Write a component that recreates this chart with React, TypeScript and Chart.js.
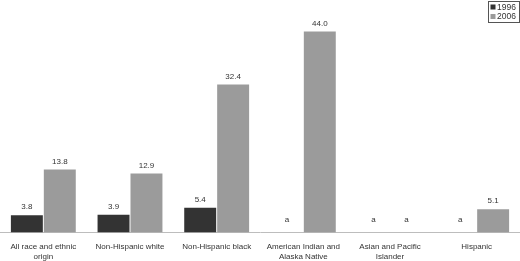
import React, { useEffect, useRef } from "react";
import { Chart, registerables } from "chart.js";

Chart.register(...registerables);

const categories: string[][] = [
  ["All race and ethnic", "origin"],
  ["Non-Hispanic white"],
  ["Non-Hispanic black"],
  ["American Indian and", "Alaska Native"],
  ["Asian and Pacific", "Islander"],
  ["Hispanic"],
];
const series1996: (number | null)[] = [3.8, 3.9, 5.4, null, null, null];
const series2006: (number | null)[] = [13.8, 12.9, 32.4, 44.0, null, 5.1];
const seriesNames = ["1996", "2006"];
const seriesColors = ["#333333", "#9b9b9b"];
const missingLabel = "a";

const FONT = "'Liberation Sans Narrow', 'Liberation Sans', Lato, sans-serif";

const labelPlugin = {
  id: "valueLabels",
  afterDatasetsDraw(chart: any) {
    const ctx = chart.ctx;
    const yScale = chart.scales.y;
    const base = yScale.getPixelForValue(0);
    ctx.save();
    ctx.font = `8px ${FONT}`;
    ctx.fillStyle = "#333333";
    ctx.textAlign = "center";
    ctx.textBaseline = "bottom";
    chart.data.datasets.forEach((ds: any, di: number) => {
      const meta = chart.getDatasetMeta(di);
      meta.data.forEach((el: any, i: number) => {
        const v = ds.data[i];
        const x = el.x;
        if (v === null || v === undefined) {
          ctx.fillText(missingLabel, x, base - 9);
        } else {
          ctx.fillText(v.toFixed(1), x, el.y - 4);
        }
      });
    });
    ctx.restore();
  },
};

const legendPlugin = {
  id: "boxLegend",
  afterDraw(chart: any) {
    const ctx = chart.ctx;
    const x0 = 488.5;
    const y0 = 1.5;
    const w = 31;
    const h = 21;
    ctx.save();
    ctx.fillStyle = "#ffffff";
    ctx.fillRect(x0, y0, w, h);
    ctx.strokeStyle = "#555555";
    ctx.lineWidth = 1;
    ctx.strokeRect(x0, y0, w, h);
    ctx.font = `8.5px ${FONT}`;
    ctx.textBaseline = "middle";
    ctx.textAlign = "left";
    seriesNames.forEach((name, i) => {
      const cy = y0 + 5.5 + i * 9.5;
      ctx.fillStyle = seriesColors[i];
      ctx.fillRect(x0 + 2, cy - 2.5, 5, 5);
      ctx.fillStyle = "#333333";
      ctx.fillText(name, x0 + 8.5, cy + 0.5);
    });
    ctx.restore();
  },
};

export default function App() {
  const ref = useRef<HTMLCanvasElement | null>(null);
  useEffect(() => {
    if (!ref.current) return;
    const chart = new Chart(ref.current, {
      type: "bar",
      data: {
        labels: categories,
        datasets: [
          {
            label: seriesNames[0],
            data: series1996,
            backgroundColor: seriesColors[0],
            categoryPercentage: 0.76,
            barPercentage: 0.97,
          },
          {
            label: seriesNames[1],
            data: series2006,
            backgroundColor: seriesColors[1],
            categoryPercentage: 0.76,
            barPercentage: 0.97,
          },
        ],
      },
      options: {
        responsive: false,
        animation: false,
        layout: { padding: { top: 4, left: 0, right: 0, bottom: 0 } },
        plugins: {
          legend: { display: false },
          tooltip: { enabled: false },
        },
        scales: {
          x: {
            grid: { display: false, drawTicks: false },
            border: { display: true, color: "#bdbdbd", width: 1 },
            ticks: {
              color: "#333333",
              font: { family: FONT, size: 8, lineHeight: 1.3 },
              padding: 9,
              maxRotation: 0,
              autoSkip: false,
            },
            afterFit: (s: any) => {
              s.height = 28.5;
            },
          },
          y: {
            display: false,
            min: 0,
            max: 50,
          },
        },
      },
      plugins: [labelPlugin, legendPlugin],
    });
    return () => chart.destroy();
  }, []);
  return (
    <div style={{ position: "absolute", left: 0, top: 0, width: 520, height: 261, background: "#fff" }}>
      <canvas ref={ref} width={520} height={261} style={{ display: "block", width: 520, height: 261 }} />
    </div>
  );
}
